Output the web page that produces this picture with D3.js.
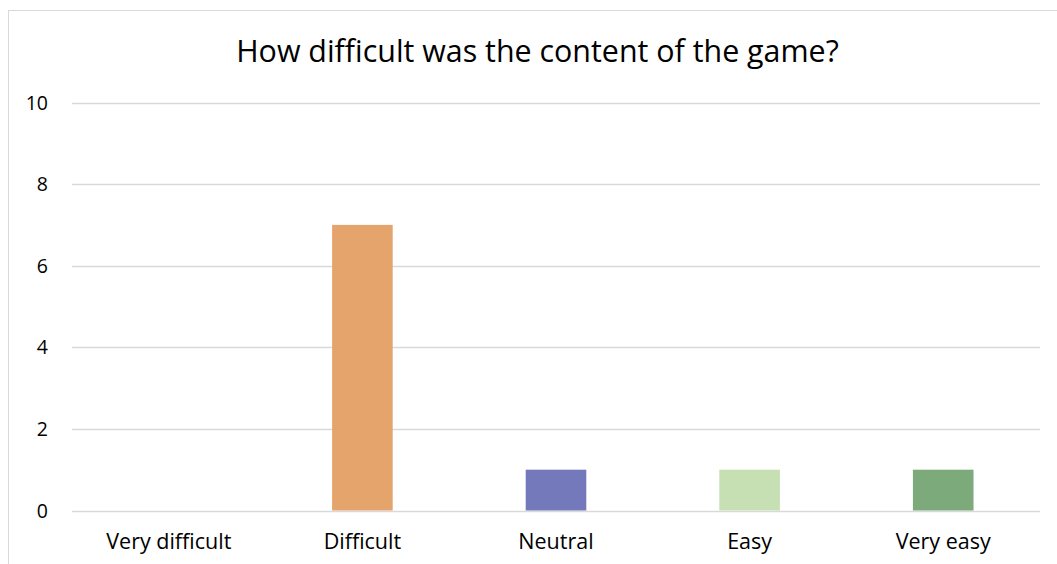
<!DOCTYPE html>
<html>
<head>
<meta charset="utf-8">
<script src="https://cdn.jsdelivr.net/npm/d3@7"></script>
<style>
  html, body { margin: 0; padding: 0; background: #fff; }
  svg { display: block; }
  text { font-family: "Open Sans", sans-serif; fill: #000; }
</style>
</head>
<body>
<svg id="chart" width="1057" height="564"></svg>
<script>
const categories = ["Very difficult", "Difficult", "Neutral", "Easy", "Very easy"];
const counts = [0, 7, 1, 1, 1];
const barColors = ["#E5A46B", "#E5A46B", "#7479BB", "#C6E0B4", "#7DAA7A"];
const yTicks = [0, 2, 4, 6, 8, 10];
const title = "How difficult was the content of the game?";

const svg = d3.select("#chart");
const W = 1057, H = 564;
const plot = { left: 72, right: 1040, top: 102.5, bottom: 510.5 };

// chart frame
svg.append("rect")
  .attr("x", 8.5).attr("y", 10.5)
  .attr("width", W + 20).attr("height", H + 20)
  .attr("fill", "#fff").attr("stroke", "#d9d9d9").attr("stroke-width", 1);

const x = d3.scaleBand()
  .domain(categories)
  .range([plot.left, plot.right])
  .paddingInner(0.687)
  .paddingOuter(0.3435);

const y = d3.scaleLinear()
  .domain([0, 10])
  .range([plot.bottom, plot.top]);

// horizontal gridlines
svg.append("g")
  .selectAll("line")
  .data(yTicks)
  .join("line")
  .attr("x1", plot.left).attr("x2", plot.right)
  .attr("y1", d => Math.round(y(d)) + 0.5)
  .attr("y2", d => Math.round(y(d)) + 0.5)
  .attr("stroke", "#d9d9d9").attr("stroke-width", 1.3);

// y tick labels
svg.append("g")
  .selectAll("text")
  .data(yTicks)
  .join("text")
  .attr("x", 48)
  .attr("y", d => y(d) + 7)
  .attr("text-anchor", "end")
  .attr("font-size", 19.5)
  .text(d => d);

// bars
svg.append("g")
  .selectAll("rect")
  .data(categories.map((c, i) => ({ c, v: counts[i], color: barColors[i] })))
  .join("rect")
  .attr("x", d => x(d.c))
  .attr("width", x.bandwidth())
  .attr("y", d => y(d.v))
  .attr("height", d => y(0) - y(d.v))
  .attr("fill", d => d.color);

// category labels
svg.append("g")
  .selectAll("text")
  .data(categories)
  .join("text")
  .attr("x", d => x(d) + x.bandwidth() / 2)
  .attr("y", 549)
  .attr("text-anchor", "middle")
  .attr("font-size", 21.5)
  .text(d => d);

// title
svg.append("text")
  .attr("x", 537.5)
  .attr("y", 62)
  .attr("text-anchor", "middle")
  .attr("font-size", 30.4)
  .text(title);
</script>
</body>
</html>
